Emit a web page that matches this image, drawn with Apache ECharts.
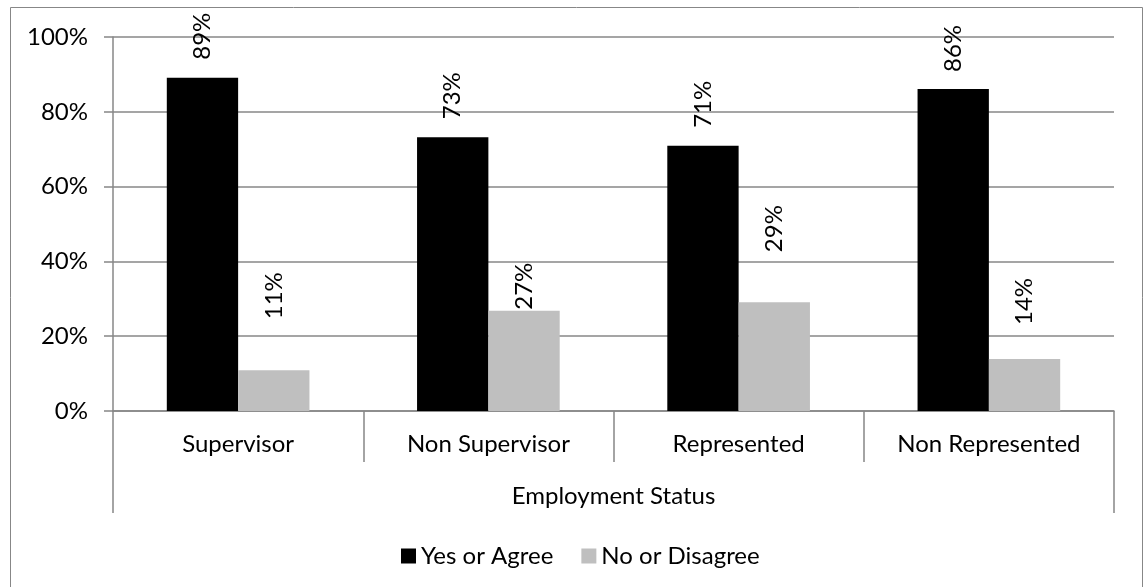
<!DOCTYPE html>
<html>
<head>
<meta charset="utf-8">
<script src="https://cdn.jsdelivr.net/npm/echarts@6/dist/echarts.min.js"></script>
<style>
  html, body { margin: 0; padding: 0; background: #fff; }
  #chart { width: 1145px; height: 587px; }
</style>
</head>
<body>
<div id="chart"></div>
<script>
// data
const categories = ['Supervisor', 'Non Supervisor', 'Represented', 'Non Represented'];
const groupLabel = ['Employment Status'];
const yesValues = [89.1, 73.2, 70.9, 86.1];
const noValues = [10.9, 26.8, 29.1, 13.9];
const seriesNames = ['Yes or Agree', 'No or Disagree'];

// label gaps above each bar (px), as placed in the original
const yesLabelGap = [18, 18, 18, 17];
const noLabelGap = [51, 1, 50, 34];

const FONT = 'Lato';
const GRID_COLOR = '#878787';

const chart = echarts.init(document.getElementById('chart'));

function withGap (values, gaps) {
  return values.map((v, i) => ({ value: v, label: { distance: gaps[i] } }));
}

const barLabel = {
  show: true,
  position: 'top',
  rotate: 90,
  align: 'left',
  verticalAlign: 'middle',
  fontFamily: FONT,
  fontSize: 24,
  color: '#000',
  formatter: p => Math.round(p.value) + '%'
};

chart.setOption({
  animation: false,
  textStyle: { fontFamily: FONT },
  graphic: [
    {
      type: 'rect',
      shape: { x: 10.5, y: 7.5, width: 1132, height: 620 },
      style: { fill: null, stroke: GRID_COLOR, lineWidth: 1 },
      silent: true
    }
  ],
  grid: {
    left: 113,
    right: 31,
    top: 37,
    bottom: 176
  },
  legend: {
    left: 396,
    top: 539,
    itemWidth: 15,
    itemHeight: 15,
    itemGap: 28,
    icon: 'rect',
    textStyle: {
      fontFamily: FONT,
      fontSize: 24,
      color: '#000',
      lineHeight: 24,
      padding: [0, 0, 0, 0]
    },
    data: seriesNames
  },
  xAxis: [
    {
      type: 'category',
      data: categories,
      position: 'bottom',
      axisLine: { show: true, lineStyle: { color: GRID_COLOR, width: 1.5 } },
      axisTick: { show: true, length: 51, alignWithLabel: false, lineStyle: { color: GRID_COLOR, width: 1.5 } },
      axisLabel: {
        margin: 21,
        fontFamily: FONT,
        fontSize: 24,
        lineHeight: 24,
        color: '#000'
      }
    },
    {
      type: 'category',
      data: groupLabel,
      position: 'bottom',
      axisLine: { show: false },
      axisTick: { show: true, length: 102, alignWithLabel: false, lineStyle: { color: GRID_COLOR, width: 1.5 } },
      axisLabel: {
        margin: 73,
        fontFamily: FONT,
        fontSize: 24,
        lineHeight: 24,
        color: '#000'
      }
    }
  ],
  yAxis: {
    type: 'value',
    min: 0,
    max: 100,
    interval: 20,
    axisLine: { show: true, lineStyle: { color: GRID_COLOR, width: 1.5 } },
    axisTick: { show: true, length: 9, lineStyle: { color: GRID_COLOR, width: 1.5 } },
    splitLine: { show: true, lineStyle: { color: GRID_COLOR, width: 1.5 } },
    axisLabel: {
      margin: 25,
      fontFamily: FONT,
      fontSize: 24,
      color: '#000',
      formatter: v => v + '%'
    }
  },
  series: [
    {
      name: seriesNames[0],
      type: 'bar',
      xAxisIndex: 0,
      barGap: 0,
      barCategoryGap: '43%',
      itemStyle: { color: '#000000' },
      label: barLabel,
      data: withGap(yesValues, yesLabelGap)
    },
    {
      name: seriesNames[1],
      type: 'bar',
      xAxisIndex: 0,
      barGap: 0,
      barCategoryGap: '43%',
      itemStyle: { color: '#BFBFBF' },
      label: barLabel,
      data: withGap(noValues, noLabelGap)
    }
  ]
});
</script>
</body>
</html>
